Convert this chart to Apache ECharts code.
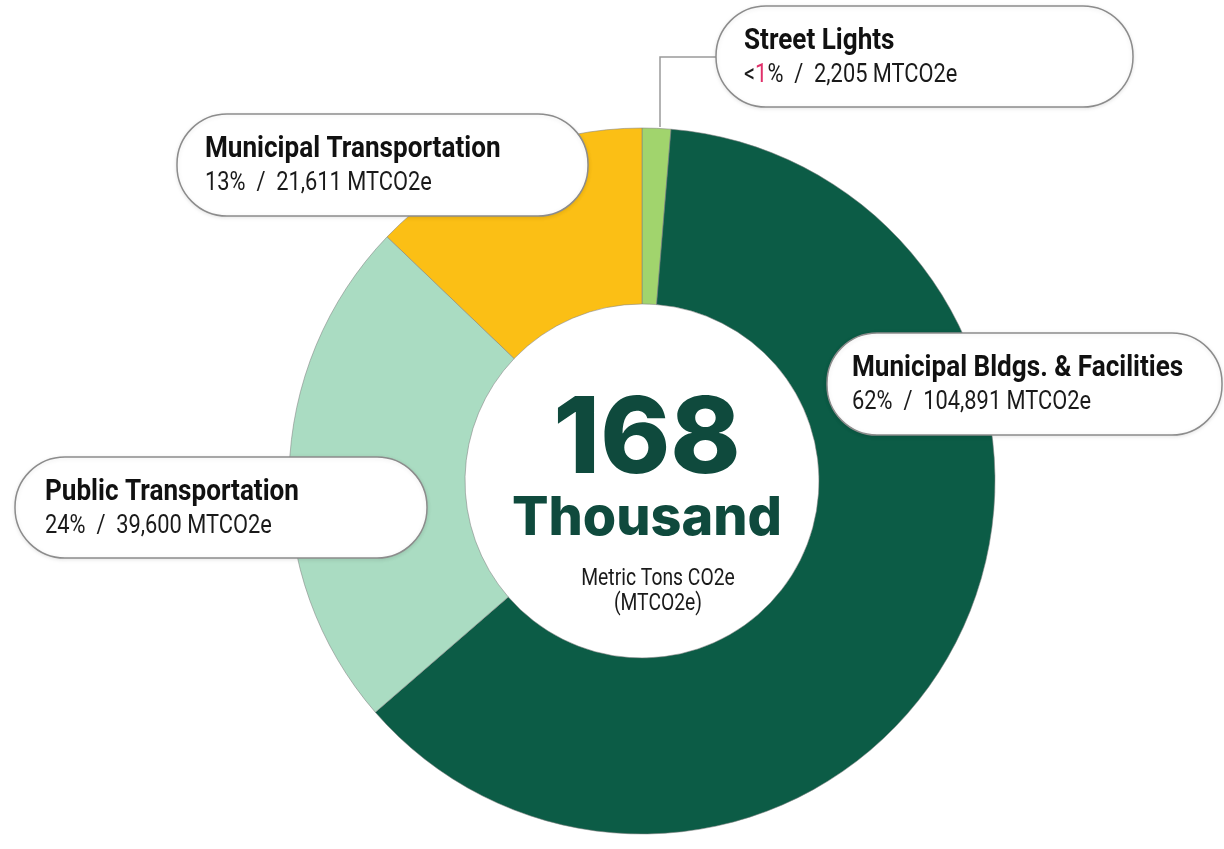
<!DOCTYPE html>
<html><head><meta charset="utf-8">
<script src="https://cdn.jsdelivr.net/npm/echarts@6/dist/echarts.min.js"></script>
<style>html,body{margin:0;padding:0;background:#fff}#c{width:1224px;height:849px}</style>
</head><body><div id="c"></div>
<script>
// ---- data ----
const categories = ['Street Lights', 'Municipal Bldgs. & Facilities', 'Public Transportation', 'Municipal Transportation'];
const values = [2205, 104891, 39600, 21611];
const percentLabels = ['<1%', '62%', '24%', '13%'];
const unitLabel = 'MTCO2e';
const centerValue = '168';
const centerUnit = 'Thousand';
const centerCaption = ['Metric Tons CO2e', '(MTCO2e)'];

// ---- styles / layout ----
const palette = ['#a1d46d', '#0c5c46', '#aadcc2', '#fbbf15'];
const boxes = [
  {x: 716, y: 6, w: 417, h: 101, tx: 744},
  {x: 827, y: 333, w: 395, h: 102, tx: 852},
  {x: 15, y: 457, w: 412, h: 101, tx: 45},
  {x: 177, y: 114, w: 411, h: 102, tx: 205}
];
const TCOND = 0.87;
const SCOND = 0.84;
const titleFont = 'bold 30px Roboto';
const subFont = '26px Roboto';

const chart = echarts.init(document.getElementById('c'), null, {renderer: 'canvas'});

const graphics = [];
// connector for Street Lights
graphics.push({
  type: 'polyline', z: 10,
  shape: {points: [[660, 127], [660, 57], [716, 57]]},
  style: {stroke: '#9a9a9a', lineWidth: 1.5, fill: null}
});
categories.forEach((name, i) => {
  const b = boxes[i];
  graphics.push({
    type: 'rect', z: 20,
    shape: {x: b.x, y: b.y, width: b.w, height: b.h, r: 50},
    style: {fill: '#fff', stroke: '#8c8c8c', lineWidth: 1.5, shadowBlur: 4, shadowColor: 'rgba(0,0,0,0.10)', shadowOffsetY: 1}
  });
  graphics.push({
    type: 'text', z: 30, x: b.tx, y: b.y + 35, scaleX: TCOND,
    style: {text: name, font: titleFont, fill: '#111', align: 'left', verticalAlign: 'middle'}
  });
  const pct = percentLabels[i].replace(/^<(\d+)/, '<{hl|$1}');
  graphics.push({
    type: 'text', z: 30, x: b.tx, y: b.y + 69, scaleX: SCOND,
    style: {
      text: pct + '  /  ' + values[i].toLocaleString('en-US') + ' ' + unitLabel,
      font: subFont, fill: '#1a1a1a', align: 'left', verticalAlign: 'middle',
      rich: {hl: {font: subFont, fill: '#e0306a'}}
    }
  });
});
// center text
graphics.push({
  type: 'text', z: 30, x: 647, y: 441,
  style: {text: centerValue, font: '800 106px Inter', fill: '#0f4a3d', align: 'center', verticalAlign: 'middle'}
});
graphics.push({
  type: 'text', z: 30, x: 647, y: 519,
  style: {text: centerUnit, font: '800 54px Inter', fill: '#0f4a3d', align: 'center', verticalAlign: 'middle'}
});
graphics.push({
  type: 'text', z: 30, x: 658, y: 579, scaleX: SCOND,
  style: {text: centerCaption[0], font: '23px Roboto', fill: '#1a1a1a', align: 'center', verticalAlign: 'middle'}
});
graphics.push({
  type: 'text', z: 30, x: 658, y: 604, scaleX: SCOND,
  style: {text: centerCaption[1], font: '23px Roboto', fill: '#1a1a1a', align: 'center', verticalAlign: 'middle'}
});

chart.setOption({
  animation: false,
  color: palette,
  series: [{
    type: 'pie',
    center: [642, 481],
    radius: [177, 353],
    startAngle: 90,
    clockwise: true,
    silent: true,
    label: {show: false},
    labelLine: {show: false},
    itemStyle: {borderColor: 'rgba(130,130,130,0.55)', borderWidth: 1},
    data: categories.map((n, i) => ({name: n, value: values[i]}))
  }],
  graphic: graphics
});
</script>
</body></html>
